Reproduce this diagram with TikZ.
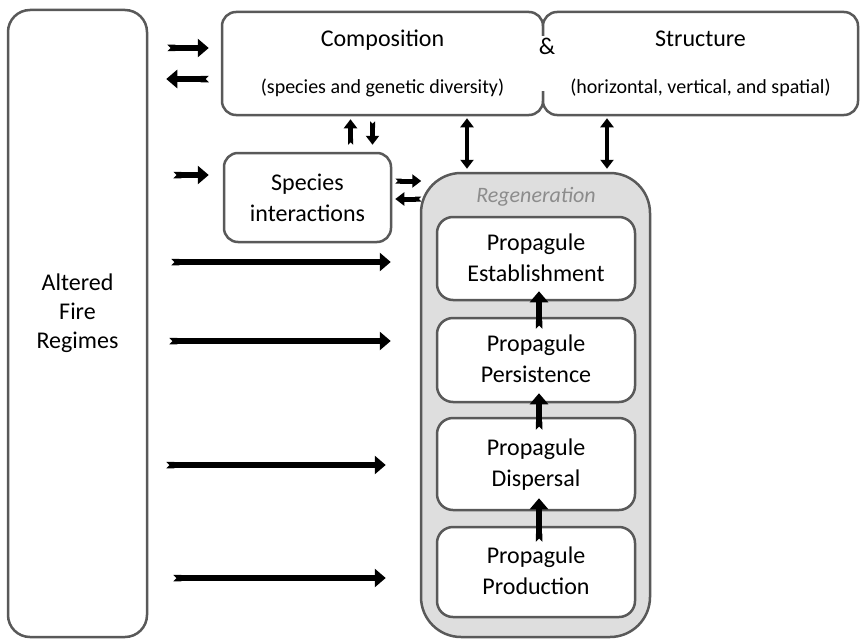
\documentclass[tikz,border=0pt]{standalone}
\usepackage{fontspec}
\setmainfont{Carlito}
\usetikzlibrary{arrows.meta,calc}

\begin{document}
\begin{tikzpicture}
  [x=1pt,y=-1pt,
   box/.style={rectangle,draw=black!65,line width=2.5pt,fill=white,
     rounded corners=14pt,align=center,inner sep=0pt,
     font=\fontsize{24}{31}\selectfont},
   stage/.style={box,rounded corners=16pt,minimum width=198pt,text depth=2pt},
   arr/.style={line width=6.5pt,{Triangle Cap[reversed]}-{Triangle[width=18pt,length=11pt]}},
   sarr/.style={line width=5pt,{Triangle Cap[reversed]}-{Triangle[width=13pt,length=9pt]}},
   dbl/.style={line width=4.5pt,{Triangle[width=13pt,length=9pt]}-{Triangle[width=13pt,length=9pt]}}]

  \useasboundingbox (0,0) rectangle (861,642);

  % driver on the left
  \node [box,rounded corners=22pt,minimum width=139pt,minimum height=627pt]
    (fire) at (77.5,323.5) {};
  \node [align=center,font=\fontsize{24}{29}\selectfont] (firetext)
    at ($(fire.center)+(0,-10)$) {Altered\\Fire\\Regimes};

  % composition & structure
  \node [box,minimum width=321pt,minimum height=103pt] (comp) at (382.5,63.5)
    {\raisebox{-2pt}{Composition}\\[18pt]{\fontsize{20}{24}\selectfont(species and genetic diversity)}};
  \node [box,minimum width=315pt,minimum height=103pt] (struct) at (700.5,63.5)
    {\raisebox{-2pt}{Structure}\\[18pt]{\fontsize{20}{24}\selectfont(horizontal, vertical, and spatial)}};
  \fill [white] ($(comp.north east)+(-3,25)$) rectangle ($(comp.south east)+(3,-25)$);
  \node [font=\fontsize{24}{29}\selectfont] (amp) at (547,46) {\&};

  \node [box,minimum width=167pt,minimum height=89pt] (spec) at (307.5,197.5)
    {Species\\interactions};

  % regeneration
  \node [box,fill=black!13,rounded corners=40pt,minimum width=229pt,minimum height=464pt]
    (regen) at (535.5,405) {};
  \node [font=\fontsize{22}{26}\selectfont\itshape,text=black!45] (regenlabel)
    at (536,197) {Regeneration};
  \node [stage,minimum height=83pt] (est)  at (536,258.5) {Propagule\\Establishment};
  \node [stage,minimum height=84pt] (pers) at (536,360)   {Propagule\\Persistence};
  \node [stage,minimum height=92pt] (disp) at (536,464)   {Propagule\\Dispersal};
  \node [stage,minimum height=90pt] (prod) at (536,572)   {Propagule\\Production};

  % links
  \draw [arr] ($(fire.east|-comp.west)+(19,-15.5)$) -- ($(comp.west)+(-12,-15.5)$);
  \draw [arr] ($(comp.west)+(-12,15.5)$) -- ($(fire.east|-comp.west)+(18,15.5)$);
  \draw [arr] ($(fire.east|-spec.west)+(25,-22.5)$) -- ($(spec.west)+(-14,-22.5)$);
  \draw [arr] ($(fire.east|-est)+(23,3.5)$)  -- ($(regen.west|-est)+(-29,3.5)$);
  \draw [arr] ($(fire.east|-pers)+(21,-19)$) -- ($(regen.west|-pers)+(-29,-19)$);
  \draw [arr] ($(fire.east|-disp)+(18,1)$)   -- ($(regen.west|-disp)+(-34,1)$);
  \draw [arr] ($(fire.east|-prod)+(25,6)$)   -- ($(regen.west|-prod)+(-34,6)$);

  \draw [sarr] ($(spec.north)+(43,-7)$) -- ($(comp.south)+(-32,3)$);
  \draw [sarr] ($(comp.south)+(-10,5)$) -- ($(spec.north)+(65,-7)$);
  \draw [sarr] ($(spec.east)+(3,-16.5)$) -- ($(spec.east)+(29,-16.5)$);
  \draw [sarr] ($(spec.east)+(29,1.5)$) -- ($(spec.east)+(3,1.5)$);

  \draw [dbl] ($(comp.south)+(84.5,2)$) -- ($(regen.north)+(-68.5,-3)$);
  \draw [dbl] ($(struct.south)+(-93.5,2)$) -- ($(regen.north)+(71.5,-3)$);

  \draw [arr] ($(prod.north)+(3,16)$) -- ($(disp.south)+(3,-13)$);
  \draw [arr] ($(disp.north)+(3,13)$) -- ($(pers.south)+(3,-10)$);
  \draw [arr] ($(pers.north)+(3,12)$) -- ($(est.south)+(3,-10)$);

\end{tikzpicture}
\end{document}
